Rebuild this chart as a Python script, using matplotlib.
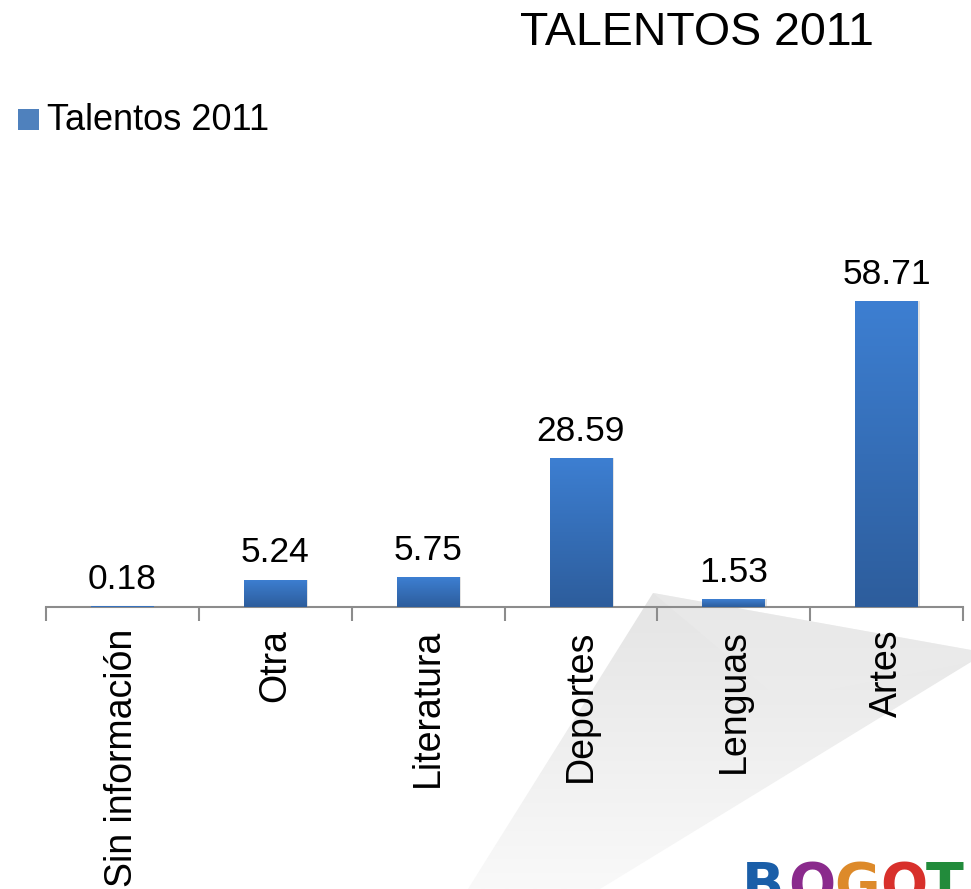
import numpy as np
import matplotlib
matplotlib.use('Agg')
import matplotlib.pyplot as plt
from matplotlib.patches import Polygon, Rectangle

categorias = ['Sin información', 'Otra', 'Literatura', 'Deportes', 'Lenguas', 'Artes']
valores = [0.18, 5.24, 5.75, 28.59, 1.53, 58.71]
serie = 'Talentos 2011'
titulo = 'TALENTOS 2011'

plt.rcParams['font.family'] = ['Liberation Sans', 'DejaVu Sans']

W, H = 971, 889
fig = plt.figure(figsize=(W/100, H/100), dpi=100)
fig.patch.set_facecolor('white')

# fondo: doblez de pagina (decorativo)
bg = fig.add_axes([0, 0, 1, 1], zorder=-5)
bg.set_xlim(0, W)
bg.set_ylim(H, 0)
bg.axis('off')
curl = Polygon([(653, 593), (971, 650), (971, 662), (600, 889), (468, 889)],
               closed=True, facecolor='none', edgecolor='none')
bg.add_patch(curl)
gy = np.linspace(0, 1, 200).reshape(-1, 1)
cm_curl = matplotlib.colors.LinearSegmentedColormap.from_list('c', ['#e4e4e4', '#f9f9f9'])
imc = bg.imshow(gy, extent=(460, 971, 889, 590), origin='upper', cmap=cm_curl, aspect='auto')
imc.set_clip_path(curl)
fold = Polygon([(653, 593), (971, 650), (971, 662), (780, 700)], closed=True,
               facecolor='#ececec', edgecolor='none', alpha=0.5)
bg.add_patch(fold)

ax = fig.add_axes([46/W, 1-607/H, (963-46)/W, (607-180)/H], zorder=1)
ax.patch.set_alpha(0)

x = np.arange(len(categorias))
ymax = (607-180) / (306/58.71)

bars = ax.bar(x, valores, width=0.41, color='#3a72be', zorder=3)
grad = np.linspace(0, 1, 256).reshape(-1, 1)
cmap = matplotlib.colors.LinearSegmentedColormap.from_list('g', ['#2d5d9c', '#3d7fd2'])
for b, v in zip(bars, valores):
    bx, by = b.get_x(), b.get_y()
    bw, bh = b.get_width(), b.get_height()
    ax.add_patch(Rectangle((bx+0.012, by), bw, bh, facecolor='#b0b0b0', alpha=0.35,
                           edgecolor='none', zorder=2))
    im = ax.imshow(grad, extent=(bx, bx+bw, by, by+bh), origin='lower', cmap=cmap,
                   aspect='auto', zorder=3.5)
    im.set_clip_path(b)
    ax.text(bx+bw/2, bh+2.0, f'{v:.2f}', ha='center', va='bottom',
            fontsize=25.5, color='black', zorder=5)

ax.set_xlim(-0.5, len(categorias)-0.5)
ax.set_ylim(0, ymax)

for s in ['top', 'right', 'left']:
    ax.spines[s].set_visible(False)
ax.spines['bottom'].set_color('#8c8c8c')
ax.spines['bottom'].set_linewidth(1.5)
ax.set_yticks([])
ax.set_xticks(x)
ax.set_xticklabels(categorias, rotation=90, fontsize=27, va='top')
ax.tick_params(axis='x', which='major', length=0, pad=16)
ax.set_xticks(np.arange(-0.5, len(categorias)), minor=True)
ax.tick_params(axis='x', which='minor', length=10, width=1.5, color='#8c8c8c', direction='out')

fig.text(697/W, 1-45/H, titulo, ha='center', va='baseline', fontsize=33.5, color='black')

# leyenda
fig.patches.append(Rectangle((18/W, 1-130/H), 21/W, 21/H, transform=fig.transFigure,
                             facecolor='#4f81bd', edgecolor='none'))
fig.text(47/W, 1-130/H, serie, ha='left', va='baseline', fontsize=26, color='black')

# logo parcial
letras = ['B', 'O', 'G', 'O', 'T']
colores = ['#1a5ea8', '#8a2a8c', '#dd8a2a', '#d8302b', '#228b3b']
for i, (l, c) in enumerate(zip(letras, colores)):
    fig.text((742 + 46*i)/W, 1-860/H, l, ha='left', va='top', fontsize=40,
             fontweight='bold', color=c, family=['DejaVu Sans'])

fig.savefig('out.png', dpi=100)
